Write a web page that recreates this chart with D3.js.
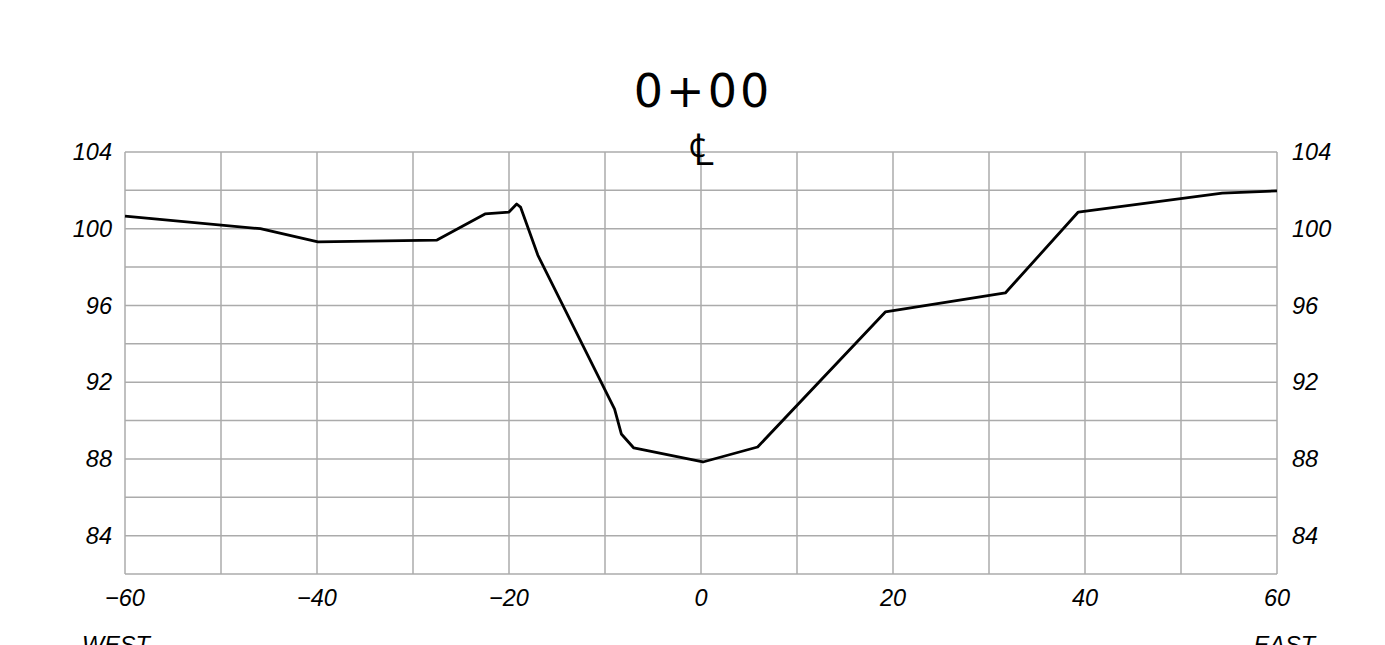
<!DOCTYPE html>
<html>
<head>
<meta charset="utf-8">
<script src="https://cdn.jsdelivr.net/npm/d3@7"></script>
<style>
  html, body { margin: 0; padding: 0; background: #fff; }
  svg { display: block; }
</style>
</head>
<body>
<svg id="chart" width="1385" height="645"></svg>
<script>
// Data
const offsets = [-60, -45.9, -39.9, -27.5, -22.5, -20, -19.2, -18.8, -17, -9, -8.3, -7, 0.2, 5.9, 19.2, 31.7, 39.3, 54.3, 60];
const elevations = [100.66, 100.0, 99.31, 99.41, 100.77, 100.87, 101.29, 101.13, 98.63, 90.6, 89.3, 88.57, 87.84, 88.62, 95.66, 96.65, 100.87, 101.86, 101.97];
const xTicks = [-60, -40, -20, 0, 20, 40, 60];
const yTicks = [84, 88, 92, 96, 100, 104];
const xGrid = d3.range(-60, 61, 10);
const yGrid = d3.range(82, 105, 2);
const title = "0+00";
const centerLabel = "\u2104";
const sideLabels = ["WEST", "EAST"];

const svg = d3.select("#chart");
const x = d3.scaleLinear().domain([-60, 60]).range([125, 1277]);
const y = d3.scaleLinear().domain([82, 104]).range([574, 152]);

const gridColor = "#ababab";
const g = svg.append("g");

g.selectAll("line.v").data(xGrid).join("line")
  .attr("x1", d => x(d)).attr("x2", d => x(d))
  .attr("y1", y(104)).attr("y2", y(82))
  .attr("stroke", gridColor).attr("stroke-width", 1.5);
g.selectAll("line.h").data(yGrid).join("line")
  .attr("x1", x(-60)).attr("x2", x(60))
  .attr("y1", d => y(d)).attr("y2", d => y(d))
  .attr("stroke", gridColor).attr("stroke-width", 1.5);

const labelFont = "'Liberation Sans', Arial, sans-serif";
const fs = 23.5;

// Left axis labels
g.selectAll("text.yl").data(yTicks).join("text")
  .attr("x", 112).attr("y", d => y(d)).attr("dy", "0.35em")
  .attr("text-anchor", "end").attr("font-style", "italic")
  .attr("font-family", labelFont).attr("font-size", fs).attr("fill", "#000")
  .text(d => d);
// Right axis labels
g.selectAll("text.yr").data(yTicks).join("text")
  .attr("x", 1292).attr("y", d => y(d)).attr("dy", "0.35em")
  .attr("text-anchor", "start").attr("font-style", "italic")
  .attr("font-family", labelFont).attr("font-size", fs).attr("fill", "#000")
  .text(d => d);
// Bottom labels
g.selectAll("text.xl").data(xTicks).join("text")
  .attr("x", d => x(d)).attr("y", 598).attr("dy", "0.35em")
  .attr("text-anchor", "middle").attr("font-style", "italic")
  .attr("font-family", labelFont).attr("font-size", fs).attr("fill", "#000")
  .text(d => d < 0 ? "\u2212" + Math.abs(d) : d);

// WEST / EAST
g.append("text").attr("x", 82).attr("y", 653)
  .attr("font-style", "italic").attr("font-family", labelFont).attr("font-size", fs)
  .text(sideLabels[0]);
g.append("text").attr("x", 1315).attr("y", 653).attr("text-anchor", "end")
  .attr("font-style", "italic").attr("font-family", labelFont).attr("font-size", fs)
  .text(sideLabels[1]);

// Title
g.append("text").attr("x", 703).attr("y", 107).attr("text-anchor", "middle")
  .attr("font-family", "'DejaVu Sans', sans-serif").attr("font-weight", 400)
  .attr("font-size", 46).attr("letter-spacing", 3).attr("fill", "#000")
  .text(title);

// Centerline symbol
g.append("text").attr("x", x(0)).attr("y", 165).attr("text-anchor", "middle")
  .attr("font-family", "'DejaVu Sans', sans-serif").attr("font-weight", 300)
  .attr("font-size", 44).attr("fill", "#000")
  .text(centerLabel);

// Profile line
const line = d3.line().x((d, i) => x(offsets[i])).y(d => y(d));
g.append("path").datum(elevations)
  .attr("d", line).attr("fill", "none")
  .attr("stroke", "#000").attr("stroke-width", 2.8).attr("stroke-linejoin", "round");
</script>
</body>
</html>
